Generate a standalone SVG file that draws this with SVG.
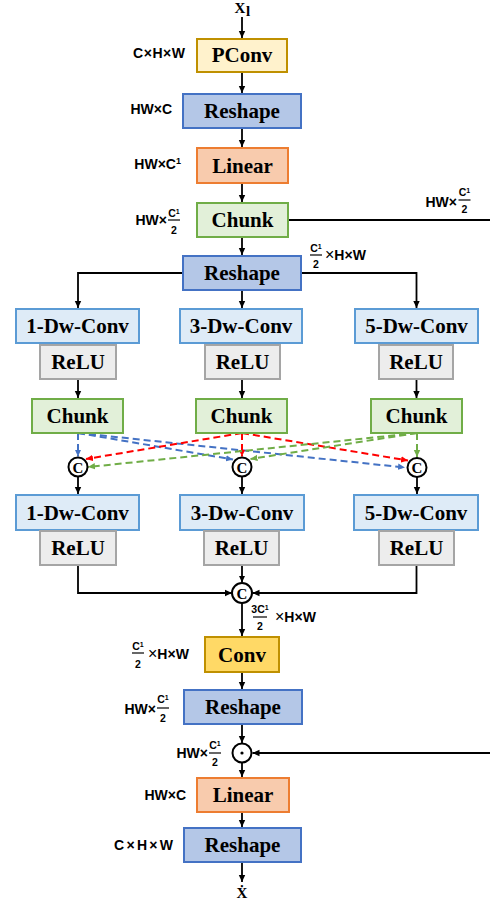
<svg xmlns="http://www.w3.org/2000/svg" width="490" height="901" viewBox="0 0 490 901">
  <defs>
    <marker id="ah" markerUnits="userSpaceOnUse" markerWidth="8" markerHeight="8" refX="7" refY="4" orient="auto"><path d="M0,0.8 L7,4 L0,7.2 z" fill="#000"/></marker>
    <marker id="ah-b" markerUnits="userSpaceOnUse" markerWidth="8" markerHeight="8" refX="7" refY="4" orient="auto"><path d="M0,0.8 L7,4 L0,7.2 z" fill="#4472c4"/></marker>
    <marker id="ah-r" markerUnits="userSpaceOnUse" markerWidth="8" markerHeight="8" refX="7" refY="4" orient="auto"><path d="M0,0.8 L7,4 L0,7.2 z" fill="#ff0000"/></marker>
    <marker id="ah-g" markerUnits="userSpaceOnUse" markerWidth="8" markerHeight="8" refX="7" refY="4" orient="auto"><path d="M0,0.8 L7,4 L0,7.2 z" fill="#70ad47"/></marker>
    <style>
      .box{stroke-width:2}
      .pconv{fill:#fff2cc;stroke:#bf9000}
      .reshape{fill:#b4c7e7;stroke:#4472c4}
      .linear{fill:#f8cbad;stroke:#ed7d31}
      .chunk{fill:#e2f0d9;stroke:#70ad47}
      .dw{fill:#deebf7;stroke:#5b9bd5}
      .relu{fill:#ededed;stroke:#a5a5a5}
      .conv{fill:#ffd966;stroke:#bf9000}
      .lbl{font-family:"Liberation Serif","Times New Roman",serif;font-weight:bold;font-size:21px;text-anchor:middle;fill:#000}
      .sym{font-family:"Liberation Serif","DejaVu Serif",serif;font-weight:bold;font-size:15px;text-anchor:middle;fill:#000}
      .dim{font-family:"Liberation Sans",Arial,sans-serif;font-weight:bold;font-size:14px;fill:#000}
      .end{text-anchor:end}
      .times{font-weight:normal;font-size:16px}
      .fr{font-family:"Liberation Sans",Arial,sans-serif;font-weight:bold;font-size:10.5px;text-anchor:middle;fill:#000}
      .bar{stroke:#000;stroke-width:1.2}
      .wire{fill:none;stroke:#000;stroke-width:1.8}
      .arr{marker-end:url(#ah)}
      .dash{fill:none;stroke-width:2;stroke-dasharray:7 4}
      .op{fill:#fff;stroke:#000;stroke-width:2}
    </style>
  </defs>

  <!-- connectors -->
  <g id="connectors">
    <path class="wire arr" d="M242,17 V38"/>
    <path class="wire arr" d="M242,72 V93"/>
    <path class="wire arr" d="M242,128 V147"/>
    <path class="wire arr" d="M242,183 V202"/>
    <path class="wire arr" d="M242,237 V255"/>
    <path class="wire" d="M288,220 H490"/>
    <!-- split into three branches -->
    <path class="wire arr" d="M183,273 H78 V308"/>
    <path class="wire arr" d="M242,290 V308"/>
    <path class="wire arr" d="M301,273 H416.5 V308"/>
    <!-- relu to chunk -->
    <path class="wire arr" d="M78,379 V398"/>
    <path class="wire arr" d="M242,379 V398"/>
    <path class="wire arr" d="M416.5,379 V398"/>
    <!-- cross exchange between branches -->
    <path class="dash" stroke="#4472c4" marker-end="url(#ah-b)" d="M78,433 V456.5"/>
    <path class="dash" stroke="#4472c4" marker-end="url(#ah-b)" d="M78,433 L233,459.5"/>
    <path class="dash" stroke="#4472c4" marker-end="url(#ah-b)" d="M78,433 L405,467.5"/>
    <path class="dash" stroke="#ff0000" marker-end="url(#ah-r)" d="M242,433 V456.5"/>
    <path class="dash" stroke="#ff0000" marker-end="url(#ah-r)" d="M242,433 L86,459"/>
    <path class="dash" stroke="#ff0000" marker-end="url(#ah-r)" d="M242,433 L408,460.5"/>
    <path class="dash" stroke="#70ad47" marker-end="url(#ah-g)" d="M417,433 V457"/>
    <path class="dash" stroke="#70ad47" marker-end="url(#ah-g)" d="M417,433 L250.5,459"/>
    <path class="dash" stroke="#70ad47" marker-end="url(#ah-g)" d="M417,433 L88,467"/>
    <!-- concat to second conv row -->
    <path class="wire arr" d="M78,476.5 V494"/>
    <path class="wire arr" d="M242,476.5 V494"/>
    <path class="wire arr" d="M417,477 V494"/>
    <!-- merge -->
    <path class="wire arr" d="M78,565 V593 H232"/>
    <path class="wire arr" d="M242,565 V582.5"/>
    <path class="wire arr" d="M416.5,565 V593 H252.5"/>
    <path class="wire arr" d="M242,603 V636"/>
    <path class="wire arr" d="M242,672 V689"/>
    <path class="wire arr" d="M242,724 V743"/>
    <path class="wire arr" d="M490,753 H252.5"/>
    <path class="wire arr" d="M242,762.5 V777"/>
    <path class="wire arr" d="M242,812 V827"/>
    <path class="wire arr" d="M242,862 V882"/>
  </g>

  <!-- input / output symbols -->
  <g id="input">
    <text class="sym" x="240" y="13">X</text>
    <text class="sym" x="248" y="16" font-size="10">l</text>
  </g>
  <g id="output">
    <text class="sym" x="242" y="898">Ẋ</text>
  </g>

  <!-- main column -->
  <g id="pconv"><rect class="box pconv" x="197" y="39" width="90" height="33"/><text class="lbl" x="242" y="62">PConv</text></g>
  <g id="reshape1"><rect class="box reshape" x="183" y="94" width="118" height="34"/><text class="lbl" x="242" y="118">Reshape</text></g>
  <g id="linear1"><rect class="box linear" x="197" y="148" width="91" height="35"/><text class="lbl" x="242.5" y="173">Linear</text></g>
  <g id="chunk1"><rect class="box chunk" x="197" y="203" width="91" height="34"/><text class="lbl" x="242.5" y="227">Chunk</text></g>
  <g id="reshape2"><rect class="box reshape" x="183" y="256" width="118" height="34"/><text class="lbl" x="242" y="280">Reshape</text></g>

  <!-- first branch row -->
  <g id="dw1a"><rect class="box dw" x="16" y="309" width="123" height="34"/><text class="lbl" x="77.5" y="333">1-Dw-Conv</text></g>
  <g id="dw3a"><rect class="box dw" x="180" y="309" width="122" height="34"/><text class="lbl" x="241" y="333">3-Dw-Conv</text></g>
  <g id="dw5a"><rect class="box dw" x="355" y="309" width="123" height="34"/><text class="lbl" x="416.5" y="333">5-Dw-Conv</text></g>
  <g id="relu1a"><rect class="box relu" x="40" y="345" width="76" height="34"/><text class="lbl" x="78" y="369">ReLU</text></g>
  <g id="relu3a"><rect class="box relu" x="205" y="345" width="75" height="34"/><text class="lbl" x="242.5" y="369">ReLU</text></g>
  <g id="relu5a"><rect class="box relu" x="379" y="345" width="74" height="34"/><text class="lbl" x="416" y="369">ReLU</text></g>
  <g id="chunk1a"><rect class="box chunk" x="32" y="399" width="91" height="34"/><text class="lbl" x="77.5" y="423">Chunk</text></g>
  <g id="chunk3a"><rect class="box chunk" x="196" y="399" width="91" height="34"/><text class="lbl" x="241.5" y="423">Chunk</text></g>
  <g id="chunk5a"><rect class="box chunk" x="371" y="399" width="91" height="34"/><text class="lbl" x="416.5" y="423">Chunk</text></g>

  <!-- concatenation nodes -->
  <g id="cat1"><circle class="op" cx="78" cy="467" r="9.5"/><text class="sym" x="78" y="472.5">C</text></g>
  <g id="cat3"><circle class="op" cx="242" cy="467" r="9.5"/><text class="sym" x="242" y="472.5">C</text></g>
  <g id="cat5"><circle class="op" cx="417" cy="467.5" r="9.5"/><text class="sym" x="417" y="473">C</text></g>

  <!-- second branch row -->
  <g id="dw1b"><rect class="box dw" x="16" y="495" width="123" height="35"/><text class="lbl" x="77.5" y="520">1-Dw-Conv</text></g>
  <g id="dw3b"><rect class="box dw" x="180" y="495" width="124" height="35"/><text class="lbl" x="242" y="520">3-Dw-Conv</text></g>
  <g id="dw5b"><rect class="box dw" x="354" y="495" width="124" height="35"/><text class="lbl" x="416" y="520">5-Dw-Conv</text></g>
  <g id="relu1b"><rect class="box relu" x="40" y="531" width="76" height="34"/><text class="lbl" x="78" y="555">ReLU</text></g>
  <g id="relu3b"><rect class="box relu" x="204" y="531" width="75" height="34"/><text class="lbl" x="241.5" y="555">ReLU</text></g>
  <g id="relu5b"><rect class="box relu" x="379" y="531" width="75" height="34"/><text class="lbl" x="416.5" y="555">ReLU</text></g>

  <g id="catall"><circle class="op" cx="242" cy="593" r="10"/><text class="sym" x="242" y="598.5">C</text></g>

  <!-- tail -->
  <g id="conv"><rect class="box conv" x="205" y="637" width="74" height="35"/><text class="lbl" x="242" y="662">Conv</text></g>
  <g id="reshape3"><rect class="box reshape" x="184" y="690" width="118" height="34"/><text class="lbl" x="243" y="714">Reshape</text></g>
  <g id="mul"><circle class="op" cx="242" cy="753" r="9.5"/><circle cx="242" cy="753" r="1.6" fill="#000"/></g>
  <g id="linear2"><rect class="box linear" x="197" y="778" width="92" height="34"/><text class="lbl" x="243" y="802">Linear</text></g>
  <g id="reshape4"><rect class="box reshape" x="184" y="828" width="117" height="34"/><text class="lbl" x="242.5" y="852">Reshape</text></g>

  <!-- shape annotations -->
  <g id="dims">
    <text class="dim end" x="185" y="58" textLength="52">C×H×W</text>
    <text class="dim end" x="172" y="114">HW×C</text>
    <text class="dim end" x="181" y="169">HW×C<tspan font-size="9" dy="-5">1</tspan></text>

    <text class="dim end" x="167" y="225">HW×</text>
    <text class="fr" x="174" y="217">C<tspan font-size="7" dy="-3">1</tspan></text>
    <line class="bar" x1="168" y1="220" x2="180" y2="220"/>
    <text class="fr" x="174" y="234">2</text>

    <text class="dim end" x="457" y="207">HW×</text>
    <text class="fr" x="464.5" y="196">C<tspan font-size="7" dy="-3">1</tspan></text>
    <line class="bar" x1="458.5" y1="200" x2="470.5" y2="200"/>
    <text class="fr" x="464.5" y="213">2</text>

    <text class="fr" x="316" y="252">C<tspan font-size="7" dy="-3">1</tspan></text>
    <line class="bar" x1="310" y1="255" x2="322" y2="255"/>
    <text class="fr" x="316" y="268">2</text>
    <text class="dim" x="325" y="260"><tspan class="times">×</tspan>H×W</text>

    <text class="fr" x="260" y="613">3C<tspan font-size="7" dy="-3">1</tspan></text>
    <line class="bar" x1="253" y1="617" x2="267" y2="617"/>
    <text class="fr" x="260" y="630">2</text>
    <text class="dim" x="275" y="622"><tspan class="times">×</tspan>H×W</text>

    <text class="fr" x="138" y="650">C<tspan font-size="7" dy="-3">1</tspan></text>
    <line class="bar" x1="132" y1="653" x2="144" y2="653"/>
    <text class="fr" x="138" y="668">2</text>
    <text class="dim" x="148" y="659"><tspan class="times">×</tspan>H×W</text>

    <text class="dim end" x="156" y="714">HW×</text>
    <text class="fr" x="163" y="703">C<tspan font-size="7" dy="-3">1</tspan></text>
    <line class="bar" x1="157" y1="708" x2="169" y2="708"/>
    <text class="fr" x="163" y="722">2</text>

    <text class="dim end" x="208" y="758">HW×</text>
    <text class="fr" x="215" y="749">C<tspan font-size="7" dy="-3">1</tspan></text>
    <line class="bar" x1="209" y1="753" x2="221" y2="753"/>
    <text class="fr" x="215" y="766">2</text>

    <text class="dim end" x="186" y="800">HW×C</text>
    <text class="dim end" x="173" y="850" textLength="59">C×H×W</text>
  </g>
</svg>
